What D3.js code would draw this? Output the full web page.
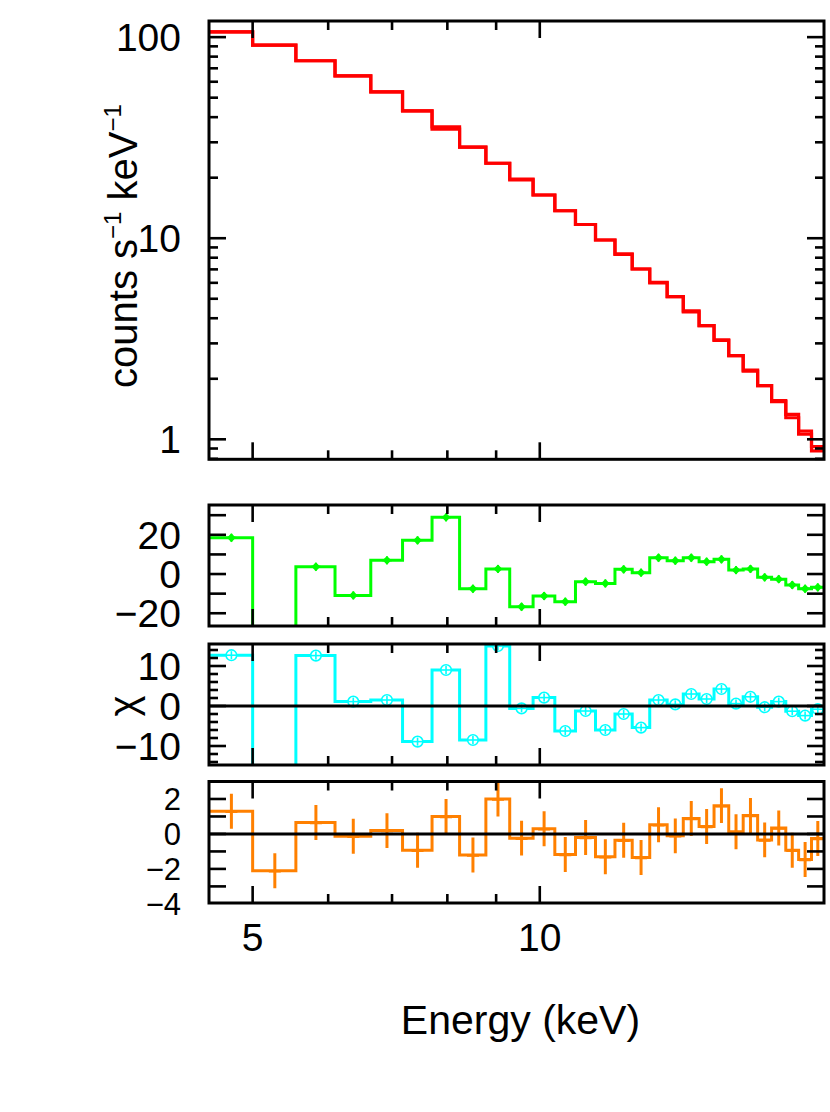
<!DOCTYPE html>
<html>
<head>
<meta charset="utf-8">
<script src="https://cdn.jsdelivr.net/npm/d3@7"></script>
<style>
  html, body { margin: 0; padding: 0; background: #fff; }
  svg { display: block; font-family: "Liberation Sans", Arial, Helvetica, sans-serif; }
</style>
</head>
<body>
<svg id="chart" width="830" height="1112"></svg>
<script>
// ---------------- DATA ----------------
const binEdges = [4.5, 5.0, 5.55, 6.10, 6.65, 7.18, 7.71, 8.24, 8.78, 9.30, 9.84, 10.37, 10.90, 11.44,
  11.99, 12.50, 13.04, 13.60, 14.14, 14.69, 15.23, 15.78, 16.34, 16.92, 17.50, 18.11, 18.68, 19.27, 19.86];

const countsData = [106.3, 91.3, 76.3, 64.2, 53.4, 43.0, 35.8, 28.4, 23.6, 19.7, 16.4, 13.7, 11.7, 9.8,
  8.36, 7.03, 6.04, 5.12, 4.35, 3.68, 3.12, 2.61, 2.21, 1.85, 1.556, 1.33, 1.10, 0.92];
const countsModel = [106.3, 91.3, 76.3, 64.2, 53.4, 43.0, 34.9, 28.4, 23.6, 19.5, 16.4, 13.7, 11.7, 9.8,
  8.30, 7.03, 6.00, 5.12, 4.30, 3.68, 3.10, 2.61, 2.18, 1.85, 1.54, 1.28, 1.06, 0.875];

const residGreen = [18.5, -45, 3.7, -10.9, 7.0, 17.2, 28.9, -7.5, 2.6, -16.7, -11.2, -14.1, -3.9, -4.8,
  2.4, 0.7, 8.3, 6.8, 8.3, 6.3, 7.5, 2.0, 2.6, -1.7, -2.6, -5.6, -7.5, -6.8];
const residCyan = [12.7, -30, 12.6, 1.1, 1.5, -8.9, 9.0, -8.5, 15.0, -0.6, 2.1, -6.25, -1.25, -6.0,
  -2.0, -5.4, 1.5, 0.4, 3.0, 1.75, 4.25, 0.6, 2.3, -0.3, 1.1, -1.3, -2.4, -0.8];
const residOrange = [1.3, -2.1, 0.65, -0.13, 0.19, -0.93, 1.0, -1.2, 2.0, -0.24, 0.3, -1.18, -0.2, -1.3,
  -0.36, -1.35, 0.53, -0.11, 0.88, 0.42, 1.62, 0.13, 1.06, -0.34, 0.34, -0.93, -1.46, -0.26];
const residError = 1;

const xMajorTicks = [5, 10];
const xMajorLabels = ["5", "10"];
const xMinorTicks = [6, 7, 8, 9];

const topMajorTicks = [1, 10, 100];
const topMajorLabels = ["1", "10", "100"];
const topMinorTicks = [0.8, 0.9, 2, 3, 4, 5, 6, 7, 8, 9, 20, 30, 40, 50, 60, 70, 80, 90];

const greenTicks = [-20, -10, 0, 10, 20, 30];
const greenLabelTicks = [-20, 0, 20];
const cyanMajorTicks = [-10, 0, 10];
const cyanMinorTicks = [-14, -12, -8, -6, -4, -2, 2, 4, 6, 8, 12, 14];
const orangeTicks = [-3, -2, -1, 0, 1, 2];
const orangeLabelTicks = [-4, -2, 0, 2];

const xTitle = "Energy (keV)";
const chiLabel = "χ";

// ---------------- LAYOUT ----------------
const svg = d3.select("#chart");
const X0 = 209, X1 = 824;
const x = d3.scaleLog().domain([4.5, 19.86]).range([X0, X1]);

const panels = [
  { id: "p1", y: d3.scaleLog().domain([0.7954, 120.3]).range([459.3, 21]) },
  { id: "p2", y: d3.scaleLinear().domain([-26.5, 35.2]).range([626, 505]) },
  { id: "p3", y: d3.scaleLinear().domain([-14.75, 15.5]).range([765, 644]) },
  { id: "p4", y: d3.scaleLinear().domain([-3.95, 3.0]).range([903, 781.5]) }
];

const FS = 39;
const MAJ = 17, MIN = 9;
const defs = svg.append("defs");
panels.forEach(p => {
  const [yb, yt] = p.y.range();
  defs.append("clipPath").attr("id", "clip-" + p.id)
    .append("rect").attr("x", X0).attr("y", yt).attr("width", X1 - X0).attr("height", yb - yt);
});

function stepPoints(vals) {
  const pts = vals.map((v, i) => [binEdges[i], v]);
  pts.push([binEdges[binEdges.length - 1], vals[vals.length - 1]]);
  return pts;
}
function centers() {
  return binEdges.slice(0, -1).map((e, i) => (e + binEdges[i + 1]) / 2);
}

function drawStep(p, vals, color, width) {
  const line = d3.line().x(d => x(d[0])).y(d => p.y(d[1])).curve(d3.curveStepAfter);
  svg.append("path")
    .attr("clip-path", `url(#clip-${p.id})`)
    .attr("d", line(stepPoints(vals)))
    .attr("fill", "none").attr("stroke", color).attr("stroke-width", width)
    .attr("stroke-linejoin", "miter").attr("stroke-linecap", "butt");
}

function drawFrameAndTicks(p, yMajor, yMinor, yLabels, yLabelTexts, showXLabels, labelFs) {
  const [yb, yt] = p.y.range();
  const g = svg.append("g");
  xMajorTicks.forEach(v => {
    g.append("line").attr("x1", x(v)).attr("x2", x(v)).attr("y1", yb).attr("y2", yb - MAJ);
    g.append("line").attr("x1", x(v)).attr("x2", x(v)).attr("y1", yt).attr("y2", yt + MAJ);
  });
  xMinorTicks.forEach(v => {
    g.append("line").attr("x1", x(v)).attr("x2", x(v)).attr("y1", yb).attr("y2", yb - MIN);
    g.append("line").attr("x1", x(v)).attr("x2", x(v)).attr("y1", yt).attr("y2", yt + MIN);
  });
  yMajor.forEach(v => {
    const yy = p.y(v);
    g.append("line").attr("x1", X0).attr("x2", X0 + MAJ).attr("y1", yy).attr("y2", yy);
    g.append("line").attr("x1", X1).attr("x2", X1 - MAJ).attr("y1", yy).attr("y2", yy);
  });
  yMinor.forEach(v => {
    const yy = p.y(v);
    g.append("line").attr("x1", X0).attr("x2", X0 + MIN).attr("y1", yy).attr("y2", yy);
    g.append("line").attr("x1", X1).attr("x2", X1 - MIN).attr("y1", yy).attr("y2", yy);
  });
  g.selectAll("line").attr("stroke", "#000").attr("stroke-width", 2.6);
  g.append("rect").attr("x", X0).attr("y", yt).attr("width", X1 - X0).attr("height", yb - yt)
    .attr("fill", "none").attr("stroke", "#000").attr("stroke-width", 3);
  yLabels.forEach((v, i) => {
    g.append("text").attr("x", 181).attr("y", p.y(v)).attr("dy", "0.36em")
      .attr("text-anchor", "end").attr("font-size", labelFs || FS).attr("fill", "#000")
      .text(yLabelTexts[i]);
  });
  if (showXLabels) {
    xMajorTicks.forEach((v, i) => {
      g.append("text").attr("x", x(v)).attr("y", 951).attr("text-anchor", "middle")
        .attr("font-size", FS).attr("fill", "#000").text(xMajorLabels[i]);
    });
  }
}

function zeroLine(p) {
  svg.append("line").attr("x1", X0).attr("x2", X1).attr("y1", p.y(0)).attr("y2", p.y(0))
    .attr("stroke", "#000").attr("stroke-width", 3);
}
const fmt = v => v < 0 ? "−" + Math.abs(v) : String(v);

// ---------------- PANEL 1: counts ----------------
const P1 = panels[0];
drawStep(P1, countsModel, "#ff0000", 3.2);
drawStep(P1, countsData, "#ff0000", 3.2);
drawFrameAndTicks(P1, topMajorTicks, topMinorTicks, topMajorTicks, topMajorLabels, false);

// ---------------- PANEL 2: green ----------------
const P2 = panels[1];
const cx = centers();
drawStep(P2, residGreen, "#00ff00", 3);
const g2 = svg.append("g").attr("clip-path", "url(#clip-p2)").attr("stroke", "#00ff00").attr("stroke-width", 2);
residGreen.forEach((v, i) => {
  const px = x(cx[i]), py = P2.y(v);
  g2.append("line").attr("x1", px).attr("x2", px).attr("y1", P2.y(v + residError) - 2).attr("y2", P2.y(v - residError) + 2);
  g2.append("line").attr("x1", px - 5).attr("x2", px + 5).attr("y1", py).attr("y2", py);
  g2.append("path").attr("d", `M${px - 3},${py} L${px},${py - 3} L${px + 3},${py} L${px},${py + 3} Z`).attr("fill", "#00ff00");
});
drawFrameAndTicks(P2, greenTicks, [], greenLabelTicks, greenLabelTicks.map(fmt), false);

// ---------------- PANEL 3: cyan ----------------
const P3 = panels[2];
drawStep(P3, residCyan, "#00ffff", 3);
const g3 = svg.append("g").attr("clip-path", "url(#clip-p3)").attr("stroke", "#00ffff").attr("stroke-width", 1.6);
residCyan.forEach((v, i) => {
  const px = x(cx[i]), py = P3.y(v);
  g3.append("circle").attr("cx", px).attr("cy", py).attr("r", 5.3).attr("fill", "#fff");
  g3.append("line").attr("x1", px).attr("x2", px).attr("y1", P3.y(v + residError)).attr("y2", P3.y(v - residError));
  g3.append("line").attr("x1", px - 5.3).attr("x2", px + 5.3).attr("y1", py).attr("y2", py);
});
zeroLine(P3);
drawFrameAndTicks(P3, cyanMajorTicks, cyanMinorTicks, cyanMajorTicks, cyanMajorTicks.map(fmt), false);

// ---------------- PANEL 4: orange ----------------
const P4 = panels[3];
drawStep(P4, residOrange, "#ff8000", 3);
const g4 = svg.append("g").attr("clip-path", "url(#clip-p4)").attr("stroke", "#ff8000");
residOrange.forEach((v, i) => {
  const px = x(cx[i]), py = P4.y(v);
  g4.append("line").attr("x1", px).attr("x2", px).attr("y1", P4.y(v + residError)).attr("y2", P4.y(v - residError)).attr("stroke-width", 3);
  g4.append("line").attr("x1", px - 6).attr("x2", px + 6).attr("y1", py + 1).attr("y2", py + 1).attr("stroke-width", 1.5);
});
zeroLine(P4);
drawFrameAndTicks(P4, orangeTicks, [], orangeLabelTicks, orangeLabelTicks.map(fmt), true, 31);

// ---------------- TITLES ----------------
svg.append("text").attr("x", (X0 + X1) / 2 + 4).attr("y", 1034).attr("text-anchor", "middle")
  .attr("font-size", 41).attr("fill", "#000").text(xTitle);

const yt = svg.append("text").attr("transform", "translate(137,246) rotate(-90)")
  .attr("text-anchor", "middle").attr("font-size", 40).attr("fill", "#000");
yt.append("tspan").text("counts s");
yt.append("tspan").attr("font-size", 24).attr("dy", -16).text("−1");
yt.append("tspan").attr("dy", 16).text(" keV");
yt.append("tspan").attr("font-size", 24).attr("dy", -16).text("−1");

svg.append("text").attr("transform", "translate(137,706) rotate(-90)")
  .attr("text-anchor", "middle").attr("font-size", 40).attr("fill", "#000").text(chiLabel);
</script>
</body>
</html>
